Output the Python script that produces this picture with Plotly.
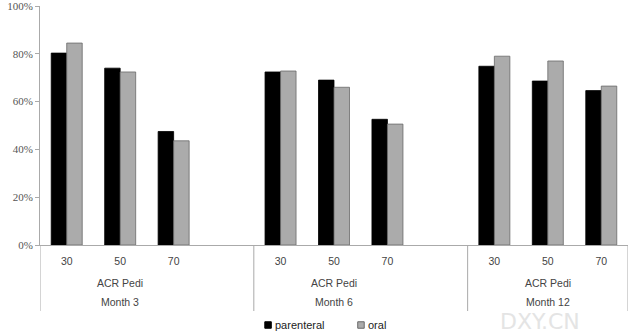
import plotly.graph_objects as go

months = ["Month 3", "Month 6", "Month 12"]
levels = ["30", "50", "70"]
parenteral = [80.3, 74.0, 47.5, 72.4, 69.0, 52.6, 74.8, 68.6, 64.6]
oral = [84.5, 72.4, 43.6, 72.8, 66.0, 50.6, 79.0, 77.0, 66.5]
sub_label = "ACR Pedi"
yticks = [0, 20, 40, 60, 80, 100]
series_names = ["parenteral", "oral"]
series_fill = ["#000000", "#ababab"]
series_edge = ["#000000", "#6a6a6a"]

# slot layout: 3 levels per month followed by an empty slot (except last)
slots_per_month = len(levels) + 1
xs = []
for mi, _ in enumerate(months):
    for li, _ in enumerate(levels):
        xs.append(mi * slots_per_month + li + 0.5)
total_slots = len(months) * slots_per_month - 1

fig = go.Figure()
for name, vals, fc, ec in zip(series_names, [parenteral, oral], series_fill, series_edge):
    fig.add_trace(go.Bar(x=xs, y=[v / 100 for v in vals], name=name,
                         marker=dict(color=fc, line=dict(color=ec, width=0.8))))

label_font = dict(family="Liberation Sans, Arial, sans-serif", size=10.5, color="#444444")
plot_w = 588.5
plot_h = 239.0

annotations = []
shapes = []
for mi, m in enumerate(months):
    start = mi * slots_per_month
    end = min(start + slots_per_month, total_slots)
    centre = start + len(levels) / 2
    annotations.append(dict(x=centre, y=-38 / plot_h, xref="x", yref="paper", text=sub_label,
                            showarrow=False, font=label_font, yanchor="middle"))
    annotations.append(dict(x=centre, y=-57 / plot_h, xref="x", yref="paper", text=m,
                            showarrow=False, font=label_font, yanchor="middle"))
    shapes.append(dict(type="line", xref="x", yref="paper", x0=end, x1=end, y0=0, y1=-66 / plot_h,
                       line=dict(color="#aaaaaa", width=1)))
shapes.append(dict(type="line", xref="x", yref="paper", x0=0, x1=0, y0=0, y1=-66 / plot_h,
                   line=dict(color="#aaaaaa", width=1)))

# manual legend (small squares + text)
legend_px = [265, 358]
legend_y = -80 / plot_h
sq = 6.5
for name, fc, ec, lx in zip(series_names, series_fill, series_edge, legend_px):
    shapes.append(dict(type="rect", xref="paper", yref="paper",
                       x0=(lx - 40) / plot_w, x1=(lx - 40 + sq) / plot_w,
                       y0=legend_y - sq / 2 / plot_h, y1=legend_y + sq / 2 / plot_h,
                       fillcolor=fc, line=dict(color=ec, width=1)))
    annotations.append(dict(x=(lx - 40 + sq + 1.5) / plot_w, y=legend_y, xref="paper", yref="paper",
                            text=name, showarrow=False, xanchor="left", yanchor="middle",
                            font=dict(family="Liberation Sans, Arial, sans-serif", size=11, color="#222222")))

annotations.append(dict(x=(540 - 40) / plot_w, y=-76 / plot_h, xref="paper", yref="paper", text="DXY.CN",
                        showarrow=False, font=dict(family="DejaVu Sans", size=22, color="#e4e4e4"),
                        yanchor="middle", xanchor="center"))

fig.update_layout(
    width=640, height=335,
    margin=dict(l=40, r=11.5, t=6, b=90),
    paper_bgcolor="white", plot_bgcolor="white",
    barmode="group", bargap=0.42, bargroupgap=0,
    showlegend=False,
    xaxis=dict(range=[0, total_slots], tickvals=xs, ticktext=levels * len(months), showgrid=False,
               zeroline=False, showline=True, linecolor="#aaaaaa", linewidth=1, ticks="",
               tickfont=label_font, ticklabelstandoff=6, fixedrange=True),
    yaxis=dict(range=[0, 1.0001], tickvals=[t / 100 for t in yticks], ticktext=[f"{t}%" for t in yticks],
               showgrid=False, zeroline=False, showline=True, linecolor="#aaaaaa", linewidth=1,
               ticks="outside", ticklen=4, tickcolor="#aaaaaa", ticklabeloverflow="allow",
               tickfont=dict(family="Liberation Serif, Times New Roman, serif", size=11, color="#555555"),
               fixedrange=True, automargin=False),
    annotations=annotations, shapes=shapes,
)

fig.write_html("out.html")
